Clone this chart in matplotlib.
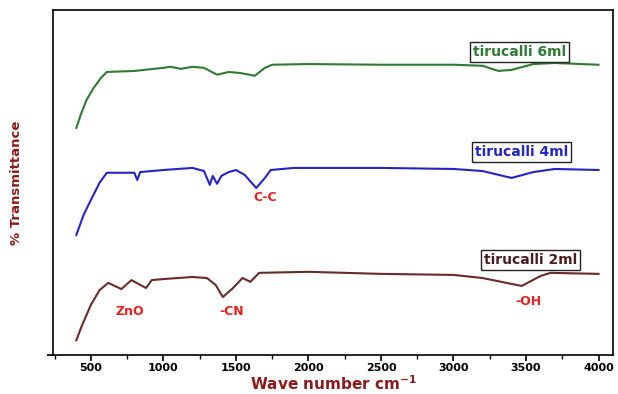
import numpy as np
import matplotlib
matplotlib.use("Agg")
import matplotlib.pyplot as plt
from matplotlib.ticker import MultipleLocator

plt.rcParams['font.family'] = ['DejaVu Sans']

# FTIR spectra (wavenumber, transmittance in arbitrary units)
wn_6ml = [400, 430, 470, 520, 570, 610, 800, 1000, 1050, 1120, 1200, 1280, 1370, 1450,
          1530, 1630, 1700, 1750, 2000, 2500, 3000, 3200, 3310, 3400, 3550, 3700, 4000]
t_6ml = [65.8, 69.6, 73.9, 77.4, 80.3, 82.0, 82.3, 83.2, 83.5, 82.9, 83.5, 83.2, 81.2, 82.0,
         81.7, 80.9, 83.2, 84.1, 84.3, 84.1, 84.1, 83.8, 82.3, 82.6, 84.3, 84.6, 84.1]

wn_4ml = [400, 450, 500, 560, 610, 800, 820, 840, 1000, 1200, 1280, 1320, 1340, 1370, 1400,
          1450, 1500, 1560, 1640, 1700, 1740, 1900, 2500, 3000, 3200, 3400, 3550, 3700, 4000]
t_4ml = [34.8, 40.6, 44.9, 49.9, 52.8, 52.8, 50.7, 53.0, 53.6, 54.2, 53.3, 49.3, 51.9, 49.6,
         51.9, 53.0, 53.6, 52.2, 48.4, 51.3, 53.6, 54.2, 54.2, 53.9, 53.3, 51.3, 53.0, 53.9, 53.6]

wn_2ml = [400, 440, 500, 560, 620, 710, 780, 880, 920, 1000, 1200, 1300, 1360, 1410, 1480,
          1545, 1600, 1660, 2000, 2500, 3000, 3200, 3470, 3600, 3670, 4000]
t_2ml = [4.3, 8.7, 14.5, 18.8, 20.9, 19.1, 21.7, 19.4, 21.7, 22.0, 22.6, 22.3, 20.3, 16.8,
         19.4, 22.3, 21.2, 23.8, 24.1, 23.5, 23.2, 22.3, 20.0, 22.9, 23.8, 23.5]

series_labels = ['tirucalli 6ml', 'tirucalli 4ml', 'tirucalli 2ml']
series_colors = ['#2f7a34', '#2424c8', '#4a1c1c']

peak_labels = ['C-C', 'ZnO', '-CN', '-OH']
peak_pos = [(1700, 45.5), (770, 12.5), (1470, 12.5), (3520, 15.5)]

fig = plt.figure(figsize=(6.18, 3.94), dpi=100)
ax = fig.add_axes([0.086, 0.099, 0.906, 0.876])

ax.plot(wn_6ml, t_6ml, color=series_colors[0], lw=1.5)
ax.plot(wn_4ml, t_4ml, color=series_colors[1], lw=1.5)
ax.plot(wn_2ml, t_2ml, color='#6a2a2a', lw=1.5)

ax.set_xlim(240, 4100)
ax.set_ylim(0, 100)

ax.xaxis.set_minor_locator(MultipleLocator(250))
ax.set_xticks(np.arange(500, 4001, 500))
ax.set_yticks([0])
ax.set_yticklabels([])
ax.tick_params(axis='x', which='major', direction='out', length=4, width=1.2,
               labelsize=8, pad=2)
ax.tick_params(axis='x', which='minor', direction='out', length=3, width=1.0)
ax.tick_params(axis='y', direction='out', length=4, width=1.2)
for lab in ax.get_xticklabels():
    lab.set_fontweight('bold')
for sp in ax.spines.values():
    sp.set_linewidth(1.2)

ax.set_xlabel('Wave number cm$^{\\mathbf{-1}}$', color='#8b1a1a', fontsize=11,
              fontweight='bold', labelpad=1)
ax.set_ylabel('% Transmittance', color='#8b1a1a', fontsize=9.5,
              fontweight='bold', labelpad=14)

box_pos = [(3455, 87.8), (3470, 58.8), (3530, 27.5)]
for lab, col, (x, y) in zip(series_labels, series_colors, box_pos):
    ax.text(x, y, lab, color=col, fontsize=10, fontweight='bold', ha='center',
            va='center', bbox=dict(boxstyle='square,pad=0.2', fc='white', ec='#222222', lw=1.0))

for lab, (x, y) in zip(peak_labels, peak_pos):
    ax.text(x, y, lab, color='#e82020', fontsize=9, fontweight='bold',
            ha='center', va='center')

fig.savefig('out.png', dpi=100)
